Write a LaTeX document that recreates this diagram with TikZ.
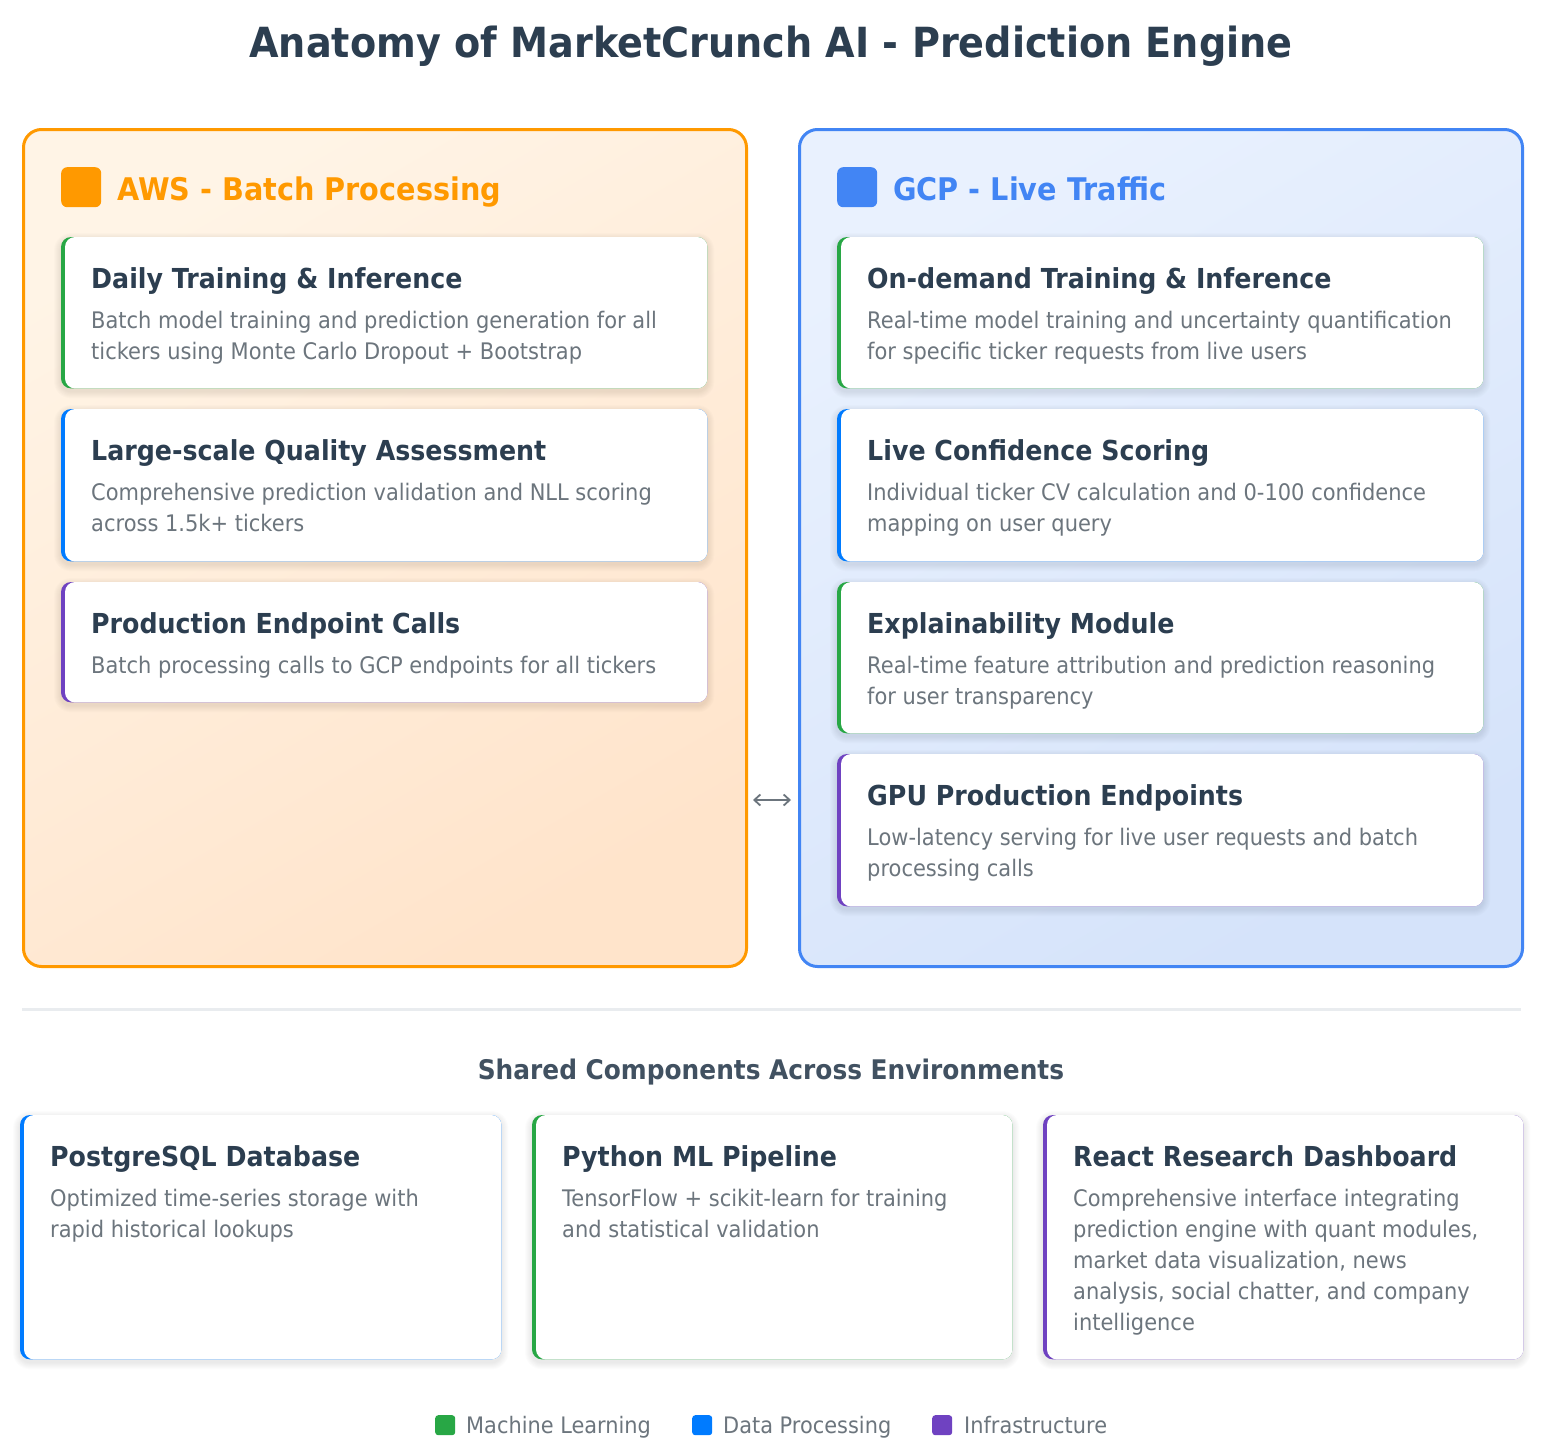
\documentclass[tikz,border=0pt]{standalone}
\usepackage{fontspec}
\setmainfont{DejaVu Sans}[FakeStretch=0.92]
\usetikzlibrary{arrows.meta}
\definecolor{darktext}{HTML}{2C3E50}
\definecolor{graytext}{HTML}{6C757D}
\definecolor{mlgreen}{HTML}{28A745}
\definecolor{dpblue}{HTML}{007BFF}
\definecolor{infpurple}{HTML}{6F42C1}
\definecolor{awsorange}{HTML}{FF9900}
\definecolor{gcpblue}{HTML}{4285F4}
\definecolor{awstop}{HTML}{FFF4E6}
\definecolor{awsbot}{HTML}{FFE4CB}
\definecolor{gcptop}{HTML}{E9F1FE}
\definecolor{gcpbot}{HTML}{D5E3FA}
\definecolor{sepgray}{HTML}{E9ECEF}
\tikzset{
  panelbox/.style={draw, line width=3pt, rounded corners=18pt, inner sep=0pt, anchor=north west},
  cardbase/.style={inner sep=0pt, anchor=north west},
  softshadow/.style={fill=black, fill opacity=0.011},
  cardtitle/.style={anchor=base west, inner sep=0pt, text=darktext, font=\fontsize{27.5}{31}\selectfont\bfseries},
  carddesc/.style={anchor=base west, inner sep=0pt, text=graytext, align=left, font=\fontsize{22.8}{31}\selectfont},
  headsq/.style={rounded corners=6pt, inner sep=0pt, minimum width=40pt, minimum height=40pt, anchor=north west},
  headtext/.style={anchor=base west, inner sep=0pt, font=\fontsize{31.2}{36}\selectfont\bfseries},
  legsq/.style={rounded corners=3pt, inner sep=0pt, minimum width=20pt, minimum height=20pt, anchor=north west},
  legtext/.style={anchor=base west, inner sep=0pt, text=graytext, font=\fontsize{22.7}{26}\selectfont},
}
% name, x, y, w, h, color, title, desc, offset of last desc line
\newcommand\mkcard[9]{%
  \node[cardbase, minimum width=#4, minimum height=#5] (#1) at (#2,#3) {};
  \foreach \k/\r in {1/11pt,2/12pt,3/13pt,4/14pt,5/15pt,6/16pt,7/17pt}{%
    \fill[softshadow, rounded corners=\r] ([shift={(-\k,-\k+3)}]#1.north west) rectangle ([shift={(\k,\k+3)}]#1.south east);
  }
  \fill[#6, rounded corners=10pt] (#1.south west) rectangle (#1.north east);
  \fill[white, rounded corners=10pt] ([xshift=4pt]#1.south west) rectangle (#1.north east);
  \node[cardtitle] (#1t) at ([shift={(30,51)}]#1.north west) {#7};
  \node[carddesc] (#1d) at ([shift={(30,91+#9)}]#1.north west) {#8};
}
\begin{document}
\begin{tikzpicture}[x=1pt,y=-1pt]
\useasboundingbox[fill=white] (0,0) rectangle (1542,1454);

\node[anchor=base, inner sep=0pt, text=darktext, font=\fontsize{41.5}{48}\selectfont\bfseries] (title) at (771,57) {Anatomy of MarketCrunch AI - Prediction Engine};

% panels
\node[panelbox, draw=awsorange, top color=awstop, bottom color=awsbot, shading angle=30, minimum width=723, minimum height=837] (aws) at (22,128) {};
\node[panelbox, draw=gcpblue, top color=gcptop, bottom color=gcpbot, shading angle=30, minimum width=723, minimum height=837] (gcp) at (798,128) {};

% headers
\node[headsq, fill=awsorange] (awssq) at (61,167) {};
\node[headtext, text=awsorange] (awshead) at (117,200) {AWS - Batch Processing};
\node[headsq, fill=gcpblue] (gcpsq) at (837,167) {};
\node[headtext, text=gcpblue] (gcphead) at (893,200) {GCP - Live Traffic};

% AWS cards
\mkcard{a1}{61}{237}{646}{151}{mlgreen}{Daily Training \& Inference}{Batch model training and prediction generation for all\\tickers using Monte Carlo Dropout + Bootstrap}{31}
\mkcard{a2}{61}{409}{646}{152}{dpblue}{Large-scale Quality Assessment}{Comprehensive prediction validation and NLL scoring\\across 1.5k+ tickers}{31}
\mkcard{a3}{61}{582}{646}{120}{infpurple}{Production Endpoint Calls}{Batch processing calls to GCP endpoints for all tickers}{0}

% GCP cards
\mkcard{g1}{837}{237}{646}{151}{mlgreen}{On-demand Training \& Inference}{Real-time model training and uncertainty quantification\\for specific ticker requests from live users}{31}
\mkcard{g2}{837}{409}{646}{152}{dpblue}{Live Confidence Scoring}{Individual ticker CV calculation and 0-100 confidence\\mapping on user query}{31}
\mkcard{g3}{837}{582}{646}{151}{mlgreen}{Explainability Module}{Real-time feature attribution and prediction reasoning\\for user transparency}{31}
\mkcard{g4}{837}{754}{646}{152}{infpurple}{GPU Production Endpoints}{Low-latency serving for live user requests and batch\\processing calls}{31}

% connector between the environments
\coordinate (arl) at (753,800);
\coordinate (arr) at (791,800);
\draw[graytext, line width=1.8pt, {Straight Barb[length=6pt,width=11pt]}-{Straight Barb[length=6pt,width=11pt]}] (arl) -- (arr);

% separator
\coordinate (sepl) at (22,1009);
\coordinate (sepr) at (1521,1009);
\draw[sepgray, line width=3pt] (sepl) -- (sepr);

\node[anchor=base, inner sep=0pt, text=darktext!90!white, font=\fontsize{27}{31}\selectfont\bfseries] (shared) at (771,1079) {Shared Components Across Environments};

% shared cards
\mkcard{s1}{20}{1115}{481}{244}{dpblue}{PostgreSQL Database}{Optimized time-series storage with\\rapid historical lookups}{31}
\mkcard{s2}{532}{1115}{480}{244}{mlgreen}{Python ML Pipeline}{TensorFlow + scikit-learn for training\\and statistical validation}{31}
\mkcard{s3}{1043}{1115}{480}{244}{infpurple}{React Research Dashboard}{Comprehensive interface integrating\\prediction engine with quant modules,\\market data visualization, news\\analysis, social chatter, and company\\intelligence}{124}

% legend
\node[legsq, fill=mlgreen] (l1) at (435,1415) {};
\node[legtext] (l1t) at (466,1433) {Machine Learning};
\node[legsq, fill=dpblue] (l2) at (692,1415) {};
\node[legtext] (l2t) at (723,1433) {Data Processing};
\node[legsq, fill=infpurple] (l3) at (932,1415) {};
\node[legtext] (l3t) at (964,1433) {Infrastructure};
\end{tikzpicture}
\end{document}
